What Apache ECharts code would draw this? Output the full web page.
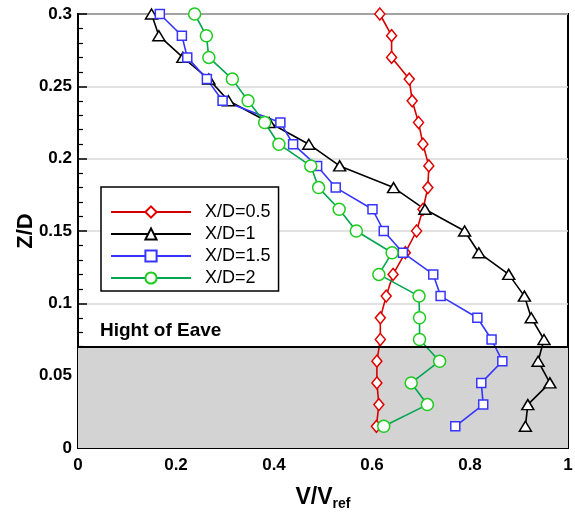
<!DOCTYPE html>
<html>
<head>
<meta charset="utf-8">
<script src="https://cdn.jsdelivr.net/npm/echarts@6/dist/echarts.min.js"></script>
<style>
  html, body { margin: 0; padding: 0; background: #fff; }
  #chart { width: 575px; height: 513px; }
</style>
</head>
<body>
<div id="chart"></div>
<script>
// Measurement heights Z/D (shared by all four stations)
const zLevels = [0.015, 0.03, 0.045, 0.06, 0.075, 0.09, 0.105, 0.12, 0.135, 0.15,
                 0.165, 0.18, 0.195, 0.21, 0.225, 0.24, 0.255, 0.27, 0.285, 0.3];

// Normalised velocity V/Vref at each height, one array per streamwise station
const vXD05 = [0.609, 0.614, 0.610, 0.610, 0.617, 0.617, 0.629, 0.643, 0.668, 0.691,
               0.704, 0.714, 0.716, 0.704, 0.695, 0.682, 0.676, 0.640, 0.640, 0.616];
const vXD1  = [0.913, 0.918, 0.963, 0.939, 0.951, 0.925, 0.911, 0.879, 0.818, 0.789,
               0.708, 0.644, 0.534, 0.471, 0.390, 0.307, 0.267, 0.214, 0.165, 0.150];
const vXD15 = [0.770, 0.827, 0.823, 0.866, 0.844, 0.815, 0.740, 0.725, 0.663, 0.624,
               0.601, 0.526, 0.488, 0.439, 0.413, 0.295, 0.263, 0.223, 0.212, 0.167];
const vXD2  = [0.624, 0.713, 0.680, 0.738, 0.697, 0.697, 0.696, 0.614, 0.641, 0.568,
               0.533, 0.491, 0.475, 0.410, 0.381, 0.347, 0.315, 0.267, 0.262, 0.238];

const seriesNames = ['X/D=0.5', 'X/D=1', 'X/D=1.5', 'X/D=2'];

// Eave height and axis ticks
const eaveHeight = 0.07;
const eaveLabel = 'Hight of Eave';
const xTicks = [0, 0.2, 0.4, 0.6, 0.8, 1];
const yTicks = [0, 0.05, 0.1, 0.15, 0.2, 0.25, 0.3];

const FONT = "'Liberation Sans', Arial, Helvetica, sans-serif";

function pairs(values) {
  return values.map((v, i) => [v, zLevels[i]]);
}

function profile(name, values, lineColor, markColor, symbol, size) {
  return {
    name: name,
    type: 'line',
    data: pairs(values),
    symbol: symbol,
    symbolSize: size,
    showAllSymbol: true,
    color: lineColor,
    lineStyle: { color: lineColor, width: 1.6 },
    itemStyle: { color: '#ffffff', borderColor: markColor, borderWidth: 1.5 },
    emphasis: { disabled: true },
    animation: false
  };
}

const series = [
  profile(seriesNames[0], vXD05, '#d40000', '#e00000', 'diamond', [10, 12]),
  profile(seriesNames[1], vXD1, '#000000', '#000000', 'triangle', [12, 10]),
  profile(seriesNames[2], vXD15, '#3535ff', '#3535ff', 'rect', 9),
  profile(seriesNames[3], vXD2, '#00a650', '#1ccc1c', 'circle', 12)
];

// Grey band below the eave plus the eave line and its caption
series[0].markArea = {
  silent: true,
  itemStyle: { color: '#d3d3d3' },
  data: [[{ yAxis: 0 }, { yAxis: eaveHeight }]]
};
series[0].markLine = {
  silent: true,
  symbol: 'none',
  lineStyle: { color: '#000', width: 2, type: 'solid' },
  label: {
    show: true,
    formatter: eaveLabel,
    position: 'insideStartTop',
    distance: [22, 6],
    color: '#000',
    fontFamily: FONT,
    fontWeight: 'bold',
    fontSize: 19
  },
  data: [{ yAxis: eaveHeight }]
};

const chart = echarts.init(document.getElementById('chart'), null, { renderer: 'canvas' });

chart.setOption({
  backgroundColor: '#ffffff',
  animation: false,
  grid: {
    left: 78, right: 7, top: 14, bottom: 65,
    outerBoundsMode: 'none',
    containLabel: false,
    show: true, borderColor: '#000', borderWidth: 2, backgroundColor: 'transparent'
  },
  legend: {
    orient: 'vertical',
    left: 101, top: 187,
    data: seriesNames,
    itemWidth: 80, itemHeight: 14, itemGap: 4,
    padding: [16, 8, 4, 9],
    borderColor: '#000', borderWidth: 1.5,
    backgroundColor: '#fff',
    selectedMode: false,
    textStyle: { fontFamily: FONT, fontSize: 18, color: '#000', padding: [0, 0, 0, 9] }
  },
  xAxis: {
    type: 'value',
    min: 0, max: 1, interval: 0.2,
    name: '{a|V/V}{b|ref}',
    nameLocation: 'middle',
    nameGap: 36,
    nameMoveOverlap: false,
    nameTextStyle: {
      rich: {
        a: { fontFamily: FONT, fontWeight: 'bold', fontSize: 23, color: '#000' },
        b: { fontFamily: FONT, fontWeight: 'bold', fontSize: 14, color: '#000', padding: [13, 0, 0, 0] }
      }
    },
    axisLine: { show: true, onZero: false, lineStyle: { color: '#000', width: 2 } },
    axisTick: { show: true, inside: true, length: 8, lineStyle: { color: '#000', width: 1.5 } },
    minorTick: { show: true, splitNumber: 4, length: 4, lineStyle: { color: '#000', width: 1.2 } },
    splitLine: { show: false },
    axisLabel: {
      margin: 9,
      fontFamily: FONT, fontWeight: 'bold', fontSize: 17, color: '#000',
      formatter: v => xTicks.find(t => Math.abs(t - v) < 1e-9) !== undefined ? String(+v.toFixed(2)) : ''
    }
  },
  yAxis: {
    type: 'value',
    min: 0, max: 0.3, interval: 0.05,
    name: 'Z/D',
    nameLocation: 'middle',
    nameGap: 41,
    nameMoveOverlap: false,
    nameRotate: 90,
    nameTextStyle: { fontFamily: FONT, fontWeight: 'bold', fontSize: 22, color: '#000' },
    axisLine: { show: true, onZero: false, lineStyle: { color: '#000', width: 2 } },
    axisTick: { show: true, inside: true, length: 9, lineStyle: { color: '#000', width: 1.5 } },
    minorTick: { show: true, splitNumber: 5, length: 5, lineStyle: { color: '#000', width: 1.2 } },
    splitLine: { show: true, lineStyle: { color: '#d9d9d9', width: 1.5 } },
    axisLabel: {
      margin: 6,
      fontFamily: FONT, fontWeight: 'bold', fontSize: 17, color: '#000',
      formatter: v => yTicks.find(t => Math.abs(t - v) < 1e-9) !== undefined ? String(+v.toFixed(2)) : ''
    }
  },
  series: series
});
</script>
</body>
</html>
